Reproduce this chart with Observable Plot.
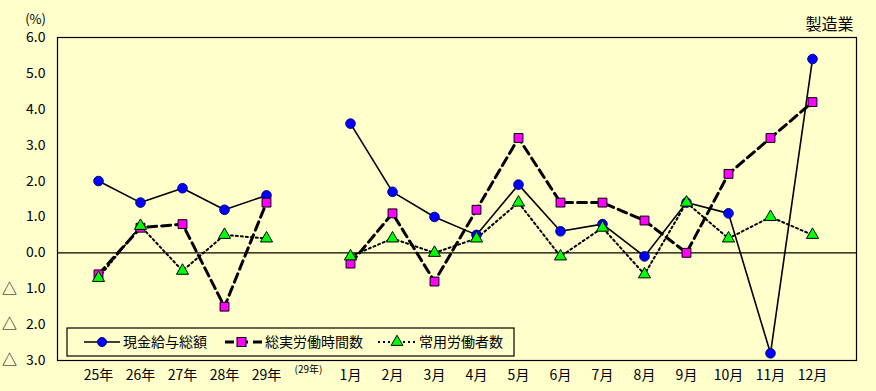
<!DOCTYPE html>
<html>
<head>
<meta charset="utf-8">
<script src="https://cdn.jsdelivr.net/npm/d3@7"></script>
<script src="https://cdn.jsdelivr.net/npm/@observablehq/plot@0.6"></script>
<style>
  html, body { margin: 0; padding: 0; background: #FFFFCC; }
  #chart { position: relative; width: 876px; height: 391px; }
</style>
</head>
<body>
<div id="chart"></div>
<script>
const categories = ["25年","26年","27年","28年","29年","(29年)","1月","2月","3月","4月","5月","6月","7月","8月","9月","10月","11月","12月"];
const wages   = [2.0, 1.4, 1.8, 1.2, 1.6, null, 3.6, 1.7, 1.0, 0.5, 1.9, 0.6, 0.8, -0.1, 1.4, 1.1, -2.8, 5.4];
const hours   = [-0.6, 0.7, 0.8, -1.5, 1.4, null, -0.3, 1.1, -0.8, 1.2, 3.2, 1.4, 1.4, 0.9, 0.0, 2.2, 3.2, 4.2];
const workers = [-0.7, 0.75, -0.5, 0.5, 0.4, null, -0.1, 0.4, 0.0, 0.4, 1.4, -0.1, 0.7, -0.6, 1.4, 0.4, 1.0, 0.5];
const seriesNames = ["現金給与総額", "総実労働時間数", "常用労働者数"];
const yTicks = [-3, -2, -1, 0, 1, 2, 3, 4, 5, 6];
const title = "製造業";
const unit = "(%)";

const font = "'Noto Sans CJK JP', sans-serif";
const rows = s => categories.map((c, i) => ({cat: c, v: s[i]}));
const W = rows(wages), H = rows(hours), K = rows(workers);
const valid = d => d.v != null;

const plot = Plot.plot({
  width: 876,
  height: 391,
  marginLeft: 57,
  marginRight: 20,
  marginTop: 37,
  marginBottom: 31,
  style: {background: "#FFFFCC", fontFamily: font, fontSize: "14px", color: "black"},
  x: {type: "point", domain: categories, range: [97, 812], padding: 0, label: null},
  y: {domain: [-3, 6], label: null},
  marks: [
    Plot.frame({stroke: "black", strokeWidth: 1.2}),
    Plot.ruleY([0], {stroke: "black", strokeWidth: 1.2}),
    Plot.axisY({ticks: yTicks, tickSize: 0, tickPadding: 12, label: null, tickFormat: d => Math.abs(d).toFixed(1), fontSize: 14}),
    Plot.text(yTicks.filter(d => d < 0), {y: d => d, text: () => "△", frameAnchor: "left", dx: -48, textAnchor: "middle", fontSize: 15}),
    Plot.axisX({tickSize: 0, tickPadding: 10, label: null, tickFormat: d => d === "(29年)" ? "" : d, fontSize: 14}),
    Plot.text(["(29年)"], {x: d => d, text: d => d, frameAnchor: "bottom", dy: 12, fontSize: 10}),
    Plot.text([unit], {text: d => d, frameAnchor: "top-left", dx: -22, dy: -23, textAnchor: "middle", fontSize: 13}),
    Plot.text([title], {text: d => d, frameAnchor: "top-right", dx: -27, dy: -19, textAnchor: "middle", fontSize: 16}),
    Plot.line(W, {x: "cat", y: "v", stroke: "black", strokeWidth: 1.6}),
    Plot.line(H, {x: "cat", y: "v", stroke: "black", strokeWidth: 3, strokeDasharray: "9,5"}),
    Plot.line(K, {x: "cat", y: "v", stroke: "black", strokeWidth: 2, strokeDasharray: "2,3"}),
    Plot.dot(W.filter(valid), {x: "cat", y: "v", r: 4.8, fill: "#0000FF", stroke: "#000080", strokeWidth: 1}),
    Plot.dot(H.filter(valid), {x: "cat", y: "v", symbol: "square", r: 5, fill: "#FF00FF", stroke: "black", strokeWidth: 1}),
    Plot.dot(K.filter(valid), {x: "cat", y: "v", symbol: "triangle", r: 4.5, fill: "#00FF00", stroke: "black", strokeWidth: 1})
  ]
});
document.getElementById("chart").appendChild(plot);

// Legend box inside plot area
const svg = d3.select(plot);
const lg = svg.append("g").attr("font-family", font).attr("font-size", 14).attr("text-anchor", "start");
lg.append("rect").attr("x", 67).attr("y", 328).attr("width", 447).attr("height", 28)
  .attr("fill", "#FFFFCC").attr("stroke", "black").attr("stroke-width", 1.2);
const cy = 342;
// item 1
lg.append("line").attr("x1", 84).attr("x2", 120).attr("y1", cy).attr("y2", cy).attr("stroke", "black").attr("stroke-width", 1.6);
lg.append("circle").attr("cx", 102).attr("cy", cy).attr("r", 4.5).attr("fill", "#0000FF").attr("stroke", "#000080");
lg.append("text").attr("x", 123).attr("y", cy).attr("dy", "0.36em").text(seriesNames[0]);
// item 2
lg.append("line").attr("x1", 225).attr("x2", 262).attr("y1", cy).attr("y2", cy).attr("stroke", "black").attr("stroke-width", 3).attr("stroke-dasharray", "9,5");
lg.append("rect").attr("x", 237).attr("y", cy - 4.5).attr("width", 9).attr("height", 9).attr("fill", "#FF00FF").attr("stroke", "black");
lg.append("text").attr("x", 265).attr("y", cy).attr("dy", "0.36em").text(seriesNames[1]);
// item 3
lg.append("line").attr("x1", 378).attr("x2", 415).attr("y1", cy).attr("y2", cy).attr("stroke", "black").attr("stroke-width", 2).attr("stroke-dasharray", "2,3");
lg.append("path").attr("d", d3.symbol(d3.symbolTriangle, 60)()).attr("transform", `translate(397,${cy})`).attr("fill", "#00FF00").attr("stroke", "black");
lg.append("text").attr("x", 419).attr("y", cy).attr("dy", "0.36em").text(seriesNames[2]);
</script>
</body>
</html>
